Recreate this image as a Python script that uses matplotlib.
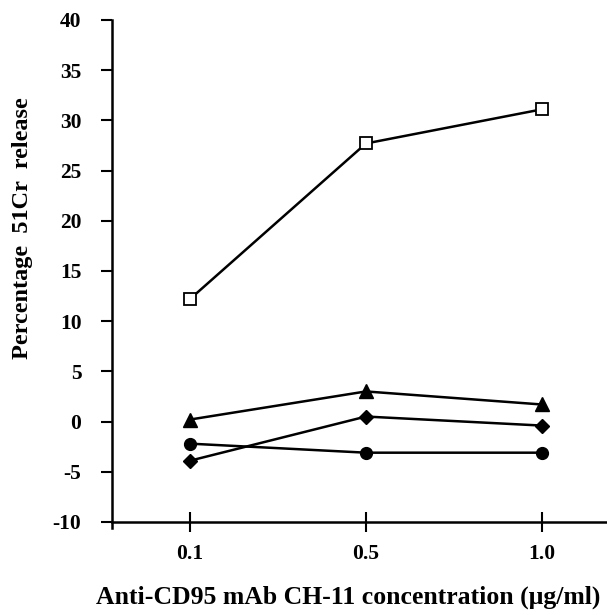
import numpy as np
import matplotlib.pyplot as plt

plt.rcParams['font.family'] = 'Liberation Serif'
plt.rcParams['font.weight'] = 'bold'
plt.rcParams['axes.unicode_minus'] = False

conc = ['0.1', '0.5', '1.0']
square = [12.2, 27.7, 31.1]
triangle = [0.2, 3.0, 1.7]
diamond = [-3.9, 0.5, -0.4]
circle = [-2.2, -3.1, -3.1]

x = np.arange(len(conc))

fig = plt.figure(figsize=(6.07, 6.15), dpi=100)
ax = fig.add_axes([0.1845, 0.1415, 0.8155, 0.826])

ax.plot(x, square, '-s', color='black', mfc='white', mec='black', ms=8, lw=1.8, mew=1.3)
ax.plot(x, triangle, '-^', color='black', ms=10, lw=1.8)
ax.plot(x, diamond, '-D', color='black', ms=7, lw=1.8)
ax.plot(x, circle, '-o', color='black', ms=8.5, lw=1.8)

ax.set_xlim(-0.443, 2.37)
ax.set_ylim(-10.6, 40)
ax.spines['bottom'].set_position(('data', -10))
ax.spines['top'].set_visible(False)
ax.spines['right'].set_visible(False)
ax.spines['left'].set_linewidth(1.8)
ax.spines['bottom'].set_linewidth(1.8)

ax.set_yticks(np.arange(-10, 41, 5))
ax.set_xticks(x)
ax.set_xticklabels(conc)
ax.tick_params(axis='y', direction='out', length=8, width=1.5, labelsize=15.5, pad=14)
ax.tick_params(axis='x', direction='inout', length=14, width=1.5, labelsize=15.5, pad=9)

ax.set_ylabel('Percentage  51Cr  release', fontsize=17.5, fontweight='bold')
ax.yaxis.set_label_coords(-0.16, 0.59)
ax.set_xlabel('Anti-CD95 mAb CH-11 concentration (\u03bcg/ml)', fontsize=18.5, fontweight='bold')
ax.xaxis.set_label_coords(0.477, -0.113)

fig.savefig('out.png', dpi=100)
